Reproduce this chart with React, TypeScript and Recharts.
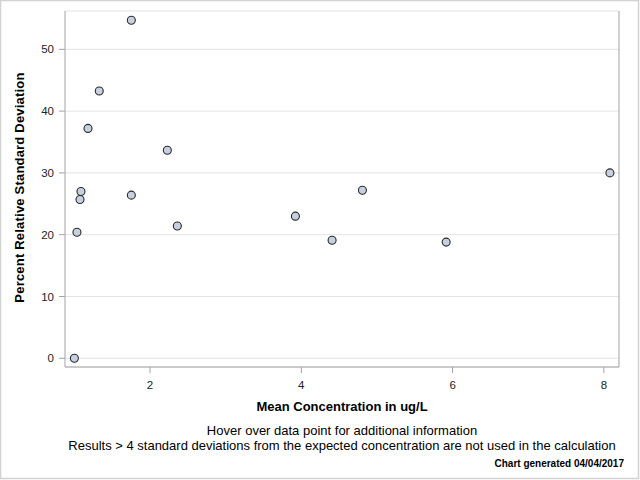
import React from "react";
import {
  ScatterChart,
  Scatter,
  XAxis,
  YAxis,
  CartesianGrid,
  ReferenceArea,
} from "recharts";

const meanConcentration = [1.0, 1.034, 1.074, 1.087, 1.18, 1.329, 1.753, 1.753, 2.229, 2.361, 3.922, 4.407, 4.808, 5.915, 8.08];
const percentRSD = [0, 20.4, 25.7, 27.0, 37.2, 43.25, 54.7, 26.4, 33.66, 21.4, 23.0, 19.1, 27.2, 18.8, 30.0];
const xTicks = [2, 4, 6, 8];
const yTicks = [0, 10, 20, 30, 40, 50];
const xDomain: [number, number] = [0.876, 8.2];
const yDomain: [number, number] = [-1.41, 56.2];

const xTitle = "Mean Concentration in ug/L";
const yTitle = "Percent Relative Standard Deviation";
const note1 = "Hover over data point for additional information";
const note2 = "Results > 4 standard deviations from the expected concentration are not used in the calculation";
const note3 = "Chart generated 04/04/2017";

const data = meanConcentration.map((x, i) => ({ x, y: percentRSD[i] }));

const FONT = "'Liberation Sans', Arial, Helvetica, sans-serif";
const FRAME = "#a3a3a3";

const Dot = (props: any) => {
  const { cx, cy } = props;
  if (cx == null || cy == null) return null;
  return <circle cx={cx} cy={cy} r={4} fill="#c6d0de" stroke="#2a2a2a" strokeWidth={1.1} />;
};

export default function App() {
  return (
    <div style={{ position: "absolute", left: 0, top: 0, width: 640, height: 480, background: "#fff", fontFamily: FONT }}>
      <ScatterChart width={640} height={480} margin={{ top: 11, right: 0, bottom: 0, left: 0 }}>
        <CartesianGrid vertical={false} stroke="#e3e3e3" strokeWidth={1} />
        <XAxis
          type="number"
          dataKey="x"
          domain={xDomain}
          allowDataOverflow
          ticks={xTicks}
          height={113}
          tickSize={6}
          tickMargin={8}
          stroke={FRAME}
          tick={{ fill: "#222", fontSize: 11.5, fontFamily: FONT }}
        />
        <YAxis
          type="number"
          dataKey="y"
          domain={yDomain}
          allowDataOverflow
          ticks={yTicks}
          width={65}
          tickSize={6}
          tickMargin={5}
          stroke={FRAME}
          tick={{ fill: "#222", fontSize: 11.5, fontFamily: FONT }}
        />
        <YAxis
          yAxisId="r"
          orientation="right"
          type="number"
          domain={yDomain}
          allowDataOverflow
          ticks={yTicks}
          width={21}
          tickSize={6}
          tick={false}
          stroke={FRAME}
        />
        <ReferenceArea fill="none" stroke={FRAME} strokeWidth={1} ifOverflow="visible" />
        <Scatter data={data} shape={<Dot />} isAnimationActive={false} />
      </ScatterChart>
      <svg
        width={640}
        height={480}
        style={{ position: "absolute", left: 0, top: 0, pointerEvents: "none" }}
      >
        <rect x={0.5} y={0.5} width={638} height={478} fill="none" stroke="#d2d2d2" strokeWidth={1.5} />
        <text
          x={342}
          y={411}
          textAnchor="middle"
          fontFamily={FONT}
          fontSize={13}
          fontWeight="bold"
          fill="#000"
        >
          {xTitle}
        </text>
        <text
          transform="translate(24,187.5) rotate(-90)"
          textAnchor="middle"
          fontFamily={FONT}
          fontSize={13}
          fontWeight="bold"
          letterSpacing={0.2}
          fill="#000"
        >
          {yTitle}
        </text>
        <text x={342} y={435} textAnchor="middle" fontFamily={FONT} fontSize={13} fill="#000">
          {note1}
        </text>
        <text x={342} y={449.5} textAnchor="middle" fontFamily={FONT} fontSize={13} fill="#000">
          {note2}
        </text>
        <text x={624} y={467} textAnchor="end" fontFamily={FONT} fontSize={10} fontWeight="bold" fill="#000">
          {note3}
        </text>
      </svg>
    </div>
  );
}
